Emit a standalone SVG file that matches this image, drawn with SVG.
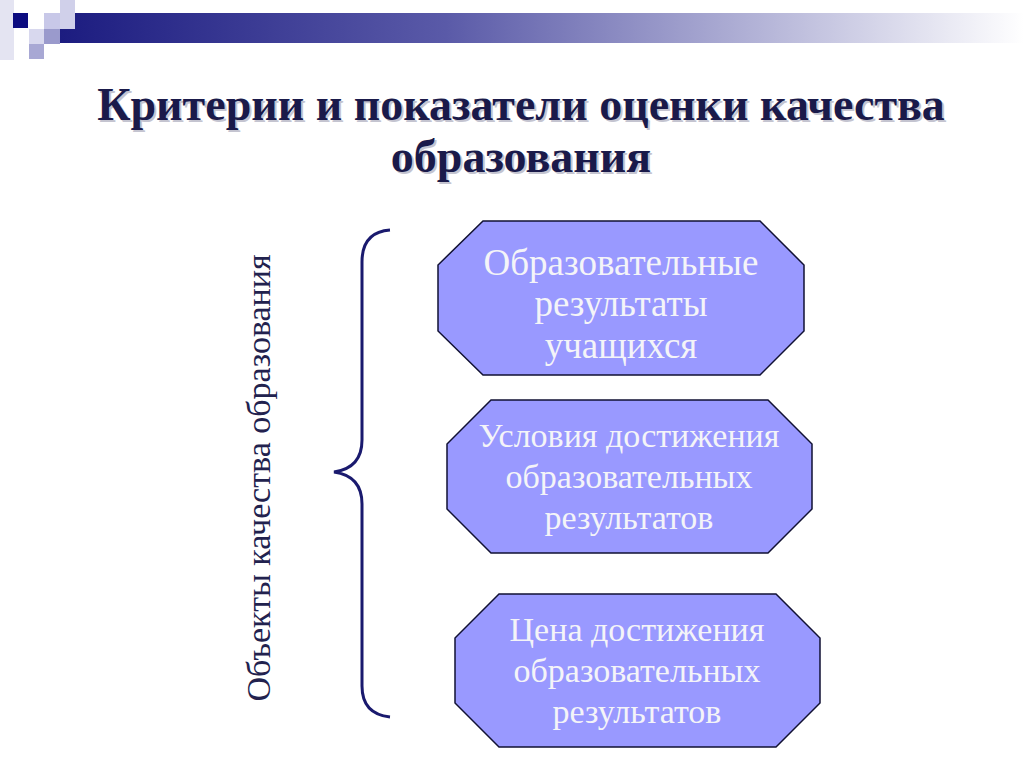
<svg xmlns="http://www.w3.org/2000/svg" width="1024" height="767" viewBox="0 0 1024 767">
<style>
.t{font-family:"Liberation Serif",serif;}
.title{font-size:46px;font-weight:bold;fill:#1a1a4a;text-anchor:middle}
.shadow{fill:#c4c4d0}
.box{fill:#9999ff;stroke:#111133;stroke-width:1.5}
.bt{font-size:37px;fill:#f4f4f8;text-anchor:middle}
.bt2{font-size:34px;fill:#f4f4f8;text-anchor:middle}
</style>
<defs>
<linearGradient id="bar" x1="0" x2="1" y1="0" y2="0">
<stop offset="0" stop-color="#1c1c80"/>
<stop offset="0.4" stop-color="#5a5aa8"/>
<stop offset="1" stop-color="#ffffff"/>
</linearGradient>
</defs>
<rect width="1024" height="767" fill="#ffffff"/>
<g id="header">
<rect x="60" y="13" width="964" height="30" fill="url(#bar)"/>
<rect x="0" y="0" width="14" height="60" fill="#e4e4f2"/>
<rect x="13" y="13" width="15" height="15" fill="#0c0c80"/>
<rect x="44" y="13" width="16" height="16" fill="#c8c8e8"/>
<rect x="60" y="0" width="15" height="29" fill="#d0d0ea"/>
<rect x="29" y="29" width="15" height="15" fill="#d8d8ee"/>
<rect x="44" y="29" width="16" height="15" fill="#9a9acc"/>
<rect x="29" y="44" width="15" height="15" fill="#a8a8d4"/>
</g>
<g id="title">
<text class="t title shadow" x="523" y="122">Критерии и показатели оценки качества</text>
<text class="t title" x="521" y="120">Критерии и показатели оценки качества</text>
<text class="t title shadow" x="523" y="174">образования</text>
<text class="t title" x="521" y="172">образования</text>
</g>
<g id="side-label">
<text class="t" transform="translate(270,478) rotate(-90)" font-size="34" fill="#22224e" text-anchor="middle">Объекты качества образования</text>
</g>
<g id="connectors">
<path d="M390,230 Q362,232 362,262 L362,440 Q362,468 334,472 Q362,476 362,504 L362,686 Q362,714 390,717" fill="none" stroke="#1a1a6e" stroke-width="3"/>
</g>
<g id="node1">
<polygon class="box" points="483,221 760,221 804,265 804,331 760,375 483,375 438,331 438,265"/>
<text class="t bt" x="621" y="275">Образовательные</text>
<text class="t bt" x="621" y="316">результаты</text>
<text class="t bt" x="621" y="358">учащихся</text>
</g>
<g id="node2">
<polygon class="box" points="491,400 768,400 812,444 812,509 768,553 491,553 447,509 447,444"/>
<text class="t bt2" x="629" y="447">Условия достижения</text>
<text class="t bt2" x="629" y="488">образовательных</text>
<text class="t bt2" x="629" y="529">результатов</text>
</g>
<g id="node3">
<polygon class="box" points="499,594 776,594 820,638 820,703 776,747 499,747 455,703 455,638"/>
<text class="t bt2" x="637" y="641">Цена достижения</text>
<text class="t bt2" x="637" y="682">образовательных</text>
<text class="t bt2" x="637" y="723">результатов</text>
</g>
</svg>
